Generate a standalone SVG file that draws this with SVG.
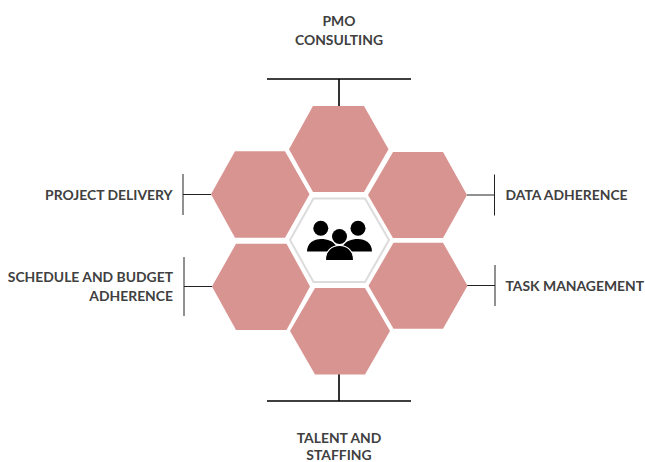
<svg xmlns="http://www.w3.org/2000/svg" width="645" height="462" viewBox="0 0 645 462">
<style>
.hex{fill:#d89490}
.lbl{font-family:"Lato","Open Sans","Liberation Sans",sans-serif;font-weight:700;font-size:13.9px;fill:#404040}
.m{text-anchor:middle}.e{text-anchor:end}
.thick{stroke:#000;stroke-width:1.6;fill:none}
.thin{stroke:#222;stroke-width:1;fill:none}
</style>
<rect width="645" height="462" fill="#fff"/>
<g id="connectors">
<path class="thick" d="M267 79H411M339 79V107"/>
<path class="thick" d="M267 401H411M339 372V401"/>
<path class="thin" d="M183 174V215M183 194.500H211"/>
<path class="thin" d="M184 257V316M184 286.500H212"/>
<path class="thin" d="M494.500 174.500V215.500M467 195H495"/>
<path class="thin" d="M495 265V306M467 285.500H495"/>
</g>
<g id="node-top"><polygon class="hex" points="313,106 364,106 388.500,149.300 364,192 313,192 289,149.300"/>
<text class="lbl m" x="339" y="26">PMO</text><text class="lbl m" x="339" y="45">CONSULTING</text></g>
<g id="node-left-top"><polygon class="hex" points="235,151.300 285,151.300 309.500,194.300 285,237.700 235,237.700 211,194.300"/>
<text class="lbl e" x="172.500" y="200">PROJECT DELIVERY</text></g>
<g id="node-left-bottom"><polygon class="hex" points="236,243.700 286.500,243.700 310,286.500 286.500,330 236,330 212,286.500"/>
<text class="lbl e" x="173" y="282">SCHEDULE AND BUDGET</text><text class="lbl e" x="173" y="301">ADHERENCE</text></g>
<g id="node-right-top"><polygon class="hex" points="393,152 443,152 467,195 443,238 393,238 368,195"/>
<text class="lbl" x="505.500" y="200">DATA ADHERENCE</text></g>
<g id="node-right-bottom"><polygon class="hex" points="393.500,242.700 443,242.700 467.500,285.700 443,328.700 393.500,328.700 368.500,285.700"/>
<text class="lbl" x="505.500" y="291">TASK MANAGEMENT</text></g>
<g id="node-bottom"><polygon class="hex" points="315,288 365,288 390,331 365,374.500 315,374.500 290,331"/>
<text class="lbl m" x="339" y="443">TALENT AND</text><text class="lbl m" x="339" y="460">STAFFING</text></g>
<g id="node-center">
<polygon points="313.500,198.500 365,198.500 389,240 365,282 313.500,282 290,240" fill="#fff" stroke="#dcdcdc" stroke-width="2"/>
<g fill="#000">
<circle cx="320.800" cy="228.300" r="7.500"/><circle cx="358" cy="228.300" r="7.500"/>
<path d="M307 251.500C307 243 314 239 321 239C328 239 333 241 336 246L330 251.500Z"/>
<path d="M372 251.500C372 243 365 239 358 239C351 239 346 241 343 246L349 251.500Z"/>
<circle cx="339.500" cy="236.500" r="7.500"/>
<path d="M325.500 260.500C325 251 332 245.500 339.500 245.500C347 245.500 354 251 353.500 260.500Z" stroke="#fff" stroke-width="1.200"/>
</g>
</g>
</svg>
